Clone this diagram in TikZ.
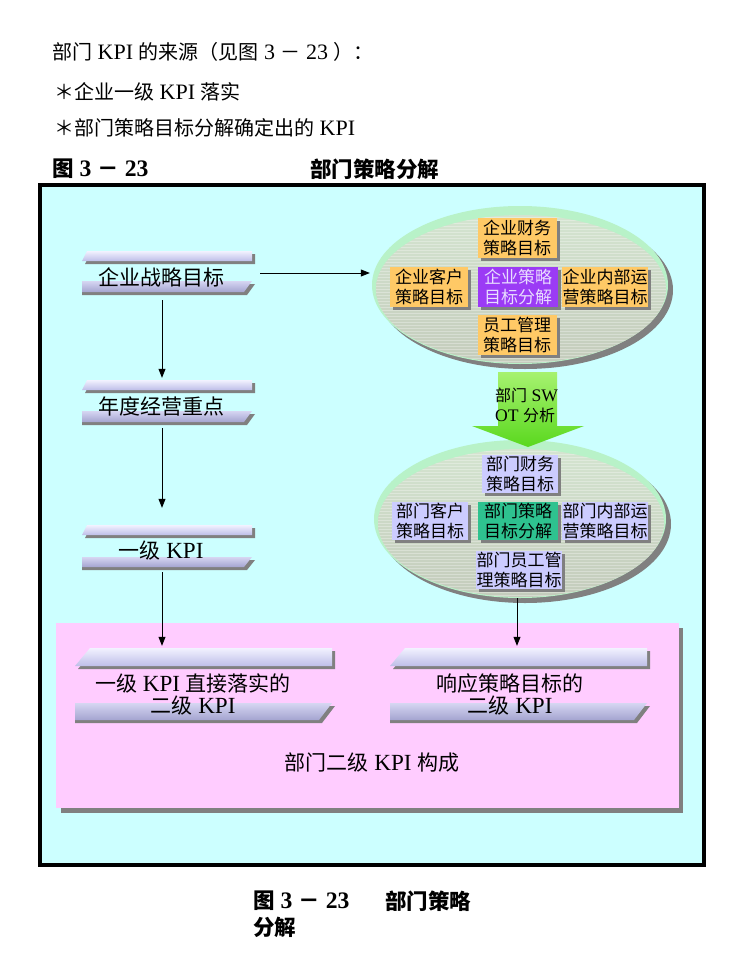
\documentclass[tikz,border=0pt]{standalone}
\usepackage{fontspec}
\setmainfont{Noto Sans CJK SC}
\newfontfamily\latf[Scale=1.1]{Liberation Serif}
\newcommand\Lx[1]{{\latf #1}}
\newcommand\fsz[2]{\fontsize{#1}{#2}\selectfont}
\usetikzlibrary{arrows.meta,shapes.geometric,shadows}
\definecolor{shadowg}{HTML}{808080}
\definecolor{bgc}{HTML}{CCFFFF}
\definecolor{pinkc}{HTML}{FFCCFF}
\definecolor{rimc}{HTML}{B8F2C8}
\definecolor{elltop}{HTML}{D4E4D0}
\definecolor{ellbot}{HTML}{C4CCBC}
\definecolor{orc}{HTML}{FFC966}
\definecolor{purc}{HTML}{9B3BF5}
\definecolor{purtxt}{HTML}{E8DDFF}
\definecolor{lavc}{HTML}{CCCCFF}
\definecolor{tealc}{HTML}{2EC28F}
\definecolor{grtop}{HTML}{A6F270}
\definecolor{grbot}{HTML}{5AD81E}
\definecolor{slabhi}{HTML}{F2F2FF}
\definecolor{slablo}{HTML}{BEBEE8}
\definecolor{slabmid}{HTML}{D6D6F2}
\definecolor{slabdk}{HTML}{A4A4D0}
% x0 x1 ytop htop ybot hbot slantleft slantright
\newcommand\bevelbar[8]{%
  \fill[shadowg] ({#1+3},{#3+#4+3}) -- ({#1+#7+3},{#3+3}) -- ({#2+3},{#3+3}) -- ({#2+3},{#3+#4+3}) -- cycle;
  \shade[top color=slabhi, bottom color=slablo] (#1,{#3+#4}) -- ({#1+#7},#3) -- (#2,#3) -- (#2,{#3+#4}) -- cycle;
  \fill[shadowg] (#1,{#5+3}) -- ({#2+3},{#5+3}) -- ({#2-#8+3},{#5+#6+3}) -- (#1,{#5+#6+3}) -- cycle;
  \shade[top color=slabmid, bottom color=slabdk] (#1,#5) -- (#2,#5) -- ({#2-#8},{#5+#6}) -- (#1,{#5+#6}) -- cycle;
}
\begin{document}
\begin{tikzpicture}[x=1pt,y=-1pt,
  arr/.style={-{Triangle[length=9pt,width=7pt]}, line width=0.8pt},
  txt/.style={inner sep=0pt, anchor=west, font=\fsz{20}{24}},
  boldtxt/.style={inner sep=0pt, anchor=west, font=\fsz{21.5}{26}\bfseries},
  bartxt/.style={inner sep=0pt, font=\fsz{21}{22}, align=center},
  bx/.style={inner sep=0pt, align=center, font=\fsz{17}{20}, minimum width=79pt, minimum height=40pt,
     drop shadow={shadow xshift=3pt, shadow yshift=-3pt, fill=shadowg, opacity=1}},
  hold/.style={inner sep=0pt, draw=none},
]
\fill[white] (0,0) rectangle (728,971);
\useasboundingbox (0,0) rectangle (728,971);

% header texts
\node[txt] (l1) at (52,52) {部门\Lx{ KPI }的来源（见图\Lx{ 3 }－\Lx{ 23 }）：};
\node[txt] (l2) at (54,92) {＊企业一级\Lx{ KPI }落实};
\node[txt] (l3) at (54,128) {＊部门策略目标分解确定出的\Lx{ KPI}};
\node[boldtxt] (l4a) at (52,169) {图\Lx{ 3 }－\Lx{ 23}};
\node[boldtxt] (l4b) at (310,169) {部门策略分解};

% frame background
\fill[bgc] (40,185) rectangle (704,865);

% pink area
\fill[shadowg] (61,628) rectangle (683,813);
\fill[pinkc] (56,623) rectangle (679,808);
\node[bartxt] (pk) at (372,763) {部门二级\Lx{ KPI }构成};

% ellipse 1
\fill[shadowg] (525,290) ellipse [x radius=148, y radius=79];
\fill[rimc] (520,285) ellipse [x radius=148, y radius=79];
\shade[top color=elltop, bottom color=ellbot] (521,289) ellipse [x radius=145, y radius=74];
\begin{scope}
  \clip (521,289) ellipse [x radius=145, y radius=74];
  \foreach \yy in {214,217,...,364} \draw[white, opacity=0.3, line width=0.7pt] (370,\yy) -- (670,\yy);
\end{scope}
\node[ellipse, hold, minimum width=296pt, minimum height=158pt] (e1) at (520,285) {};

\node[bx, fill=orc] (f1) at (517,238) {企业财务\\策略目标};
\node[bx, fill=orc, minimum width=78pt] (c1) at (429,287) {企业客户\\策略目标};
\node[bx, fill=purc, text=purtxt, minimum width=80pt] (s1) at (518,287) {企业策略\\目标分解};
\node[bx, fill=orc, minimum width=86pt] (o1) at (605,287) {企业内部运\\营策略目标};
\node[bx, fill=orc] (h1) at (517,335) {员工管理\\策略目标};

% ellipse 2
\fill[shadowg] (525,524) ellipse [x radius=146, y radius=79];
\fill[rimc] (520,519) ellipse [x radius=146, y radius=79];
\shade[top color=elltop, bottom color=ellbot] (521,523) ellipse [x radius=143, y radius=74];
\begin{scope}
  \clip (521,523) ellipse [x radius=143, y radius=74];
  \foreach \yy in {448,451,...,598} \draw[white, opacity=0.3, line width=0.7pt] (370,\yy) -- (670,\yy);
\end{scope}
\node[ellipse, hold, minimum width=292pt, minimum height=158pt] (e2) at (520,519) {};

% green SWOT arrow
\shade[top color=grtop, bottom color=grbot] (498,372) -- (557,372) -- (557,426) -- (584,426) -- (528,447) -- (472,426) -- (498,426) -- cycle;
\node[inner sep=0pt, anchor=west, align=left, font=\fsz{16}{20}] (sw) at (495,405) {部门\Lx{ SW}\\\Lx{OT }分析};

\node[bx, fill=lavc, minimum width=76pt, minimum height=38pt] (f2) at (520,474) {部门财务\\策略目标};
\node[bx, fill=lavc, minimum width=76pt, minimum height=38pt] (c2) at (430,521) {部门客户\\策略目标};
\node[bx, fill=tealc, minimum width=80pt, minimum height=38pt] (s2) at (518,521) {部门策略\\目标分解};
\node[bx, fill=lavc, minimum width=86pt, minimum height=38pt] (o2) at (605,521) {部门内部运\\营策略目标};
\node[bx, fill=lavc, minimum width=86pt, minimum height=38pt] (h2) at (519,570) {部门员工管\\理策略目标};

% bevel bars
\bevelbar{82}{252}{251}{10}{281}{11}{5}{8}
\bevelbar{82}{252}{380}{10}{411}{11}{5}{8}
\bevelbar{82}{252}{525}{10}{557}{10}{5}{8}
\bevelbar{75}{332}{648}{18}{703}{17}{15}{13}
\bevelbar{390}{647}{648}{18}{703}{17}{15}{13}

\node[hold, minimum width=173pt, minimum height=44pt] (b1) at (168.5,273) {};
\node[hold, minimum width=173pt, minimum height=45pt] (b2) at (168.5,402.5) {};
\node[hold, minimum width=173pt, minimum height=45pt] (b3) at (168.5,547.5) {};
\node[hold, minimum width=261pt, minimum height=75pt] (b4) at (205.5,685.5) {};
\node[hold, minimum width=261pt, minimum height=75pt] (b5) at (520.5,685.5) {};

\node[bartxt] (t1) at (161,277) {企业战略目标};
\node[bartxt] (t2) at (161,406) {年度经营重点};
\node[bartxt] (t3) at (161,551) {一级\Lx{ KPI}};
\node[bartxt] (t4) at (193,694) {一级\Lx{ KPI }直接落实的\\二级\Lx{ KPI}};
\node[bartxt] (t5) at (510,694) {响应策略目标的\\二级\Lx{ KPI}};

% connectors
\coordinate (colx) at (162,0);
\coordinate (colr) at (517,0);
\draw[arr, shorten <=5pt, shorten >=2pt] (b1.south -| colx) -- (b2.north -| colx);
\draw[arr, shorten <=3pt, shorten >=17pt] (b2.south -| colx) -- (b3.north -| colx);
\draw[arr, shorten <=2pt, shorten >=2pt] (b3.south -| colx) -- (b4.north -| colx);
\draw[arr, shorten >=2pt] (e2.south -| colr) -- (b5.north -| colr);
\draw[arr, shorten <=5pt, shorten >=2pt] (b1.east) -- (e1.west |- b1.east);

% frame border
\draw[line width=4.5pt] (40,185) rectangle (704,865);

% caption
\node[boldtxt] (cap1) at (253,901) {图\Lx{ 3 }－\Lx{ 23}};
\node[boldtxt] (cap2) at (385,901) {部门策略};
\node[boldtxt] (cap3) at (253,927) {分解};
\end{tikzpicture}
\end{document}
